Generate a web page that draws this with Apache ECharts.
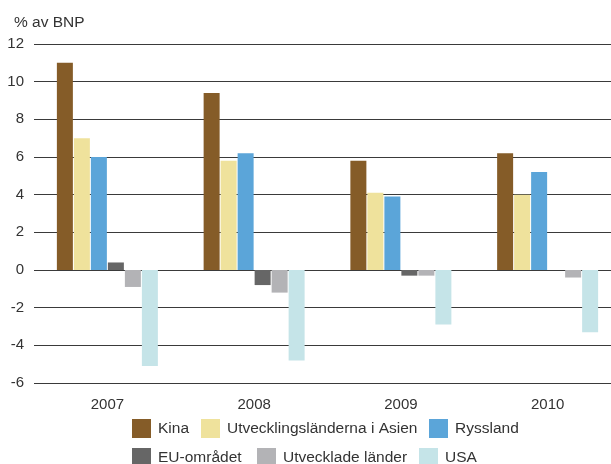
<!DOCTYPE html>
<html><head><meta charset="utf-8">
<script src="https://cdn.jsdelivr.net/npm/echarts@6/dist/echarts.min.js"></script>
<style>html,body{margin:0;padding:0;background:#fff}#c{width:611px;height:464px}</style>
</head><body><div id="c"></div>
<script>
const categories = ['2007', '2008', '2009', '2010'];
const seriesNames = ['Kina', 'Utvecklingsländerna i Asien', 'Ryssland', 'EU-området', 'Utvecklade länder', 'USA'];
const kina = [11.0, 9.4, 5.8, 6.2];
const asien = [7.0, 5.8, 4.1, 4.0];
const ryssland = [6.0, 6.2, 3.9, 5.2];
const eu = [0.4, -0.8, -0.3, 0];
const utvecklade = [-0.9, -1.2, -0.3, -0.4];
const usa = [-5.1, -4.8, -2.9, -3.3];
const colors = ['#855C28', '#EFE29C', '#5BA5D9', '#666666', '#B3B3B6', '#C5E4E8'];
const allData = [kina, asien, ryssland, eu, utvecklade, usa];
const yTitle = '% av BNP';

const FONT = 'Liberation Sans, Arial, sans-serif';
const legendPos = [
  {left: 132, top: 419}, {left: 201, top: 419}, {left: 429, top: 419},
  {left: 132, top: 448}, {left: 257, top: 448}, {left: 419, top: 448}
];
const chart = echarts.init(document.getElementById('c'), null, {renderer: 'canvas'});
chart.setOption({
  animation: false,
  backgroundColor: '#fff',
  title: {text: yTitle, left: 9, top: 10, textStyle: {fontFamily: FONT, fontSize: 15.5, fontWeight: 'normal', color: '#333'}},
  legend: seriesNames.map((n, i) => ({
    data: [n], left: legendPos[i].left, top: legendPos[i].top,
    itemWidth: 19, itemHeight: 19, itemGap: 0, icon: 'rect', padding: 0,
    textStyle: {fontFamily: FONT, fontSize: 15.5, color: '#333', padding: [0, 0, 0, 2]}
  })),
  grid: {left: 34, top: 44, width: 587, height: 339, containLabel: false, outerBoundsMode: 'none'},
  xAxis: {
    type: 'category', data: categories,
    axisLine: {show: false, onZero: false}, axisTick: {show: false},
    axisLabel: {fontFamily: FONT, fontSize: 15, color: '#333', margin: 14}
  },
  yAxis: {
    type: 'value', min: -6, max: 12, interval: 2,
    axisLine: {show: false}, axisTick: {show: false},
    axisLabel: {fontFamily: FONT, fontSize: 15, color: '#333', margin: 10},
    splitLine: {lineStyle: {color: '#3a3a3a', width: 1}}
  },
  series: seriesNames.map((n, i) => ({
    name: n, type: 'bar', data: allData[i],
    itemStyle: {color: colors[i]},
    barWidth: 16, barGap: '6.25%', barCategoryGap: '30%'
  }))
});
</script></body></html>
